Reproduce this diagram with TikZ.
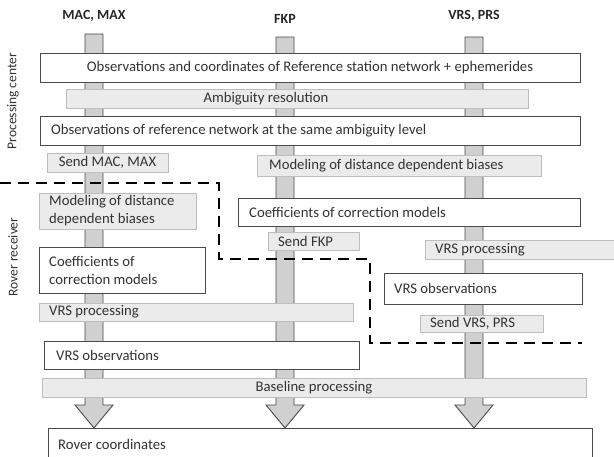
\documentclass[tikz,border=0pt]{standalone}
\usepackage{fontspec}
\setmainfont{Carlito}
\usetikzlibrary{calc}
\definecolor{txt}{HTML}{333333}
\definecolor{bandfill}{HTML}{EBEBEB}
\definecolor{banddraw}{HTML}{BDBDBD}
\definecolor{boxdraw}{HTML}{4A4A4A}
\definecolor{shaftfill}{HTML}{D0D0D0}
\tikzset{
  wbox/.style={draw=boxdraw, fill=white, line width=0.9pt, inner sep=0pt, outer sep=0pt, anchor=north west},
  gband/.style={draw=banddraw, fill=bandfill, line width=0.8pt, inner sep=0pt, outer sep=0pt, anchor=north west},
  lbl/.style={text=txt, font=\fontsize{14.7}{18}\selectfont, inner sep=0pt, anchor=west},
  clbl/.style={text=txt, font=\fontsize{14.7}{18}\selectfont, inner sep=0pt},
  side/.style={text=txt, font=\fontsize{13.5}{16}\selectfont, inner sep=0pt, rotate=90},
  ttl/.style={text=black!85, font=\fontsize{14}{16}\selectfont\bfseries, inner sep=0pt},
  shaft/.style={draw=boxdraw, fill=shaftfill, line width=0.9pt, line join=miter},
  divider/.style={draw=black, line width=2.6pt, dash pattern=on 11pt off 7pt},
}
\begin{document}
\begin{tikzpicture}[x=1pt,y=-1pt]
\useasboundingbox (0,0) rectangle (614,457);
% column titles
\node[ttl] (tmac) at (94,16) {MAC, MAX};
\node[ttl] (tfkp) at (285,19) {FKP};
\node[ttl] (tvrs) at (474,16) {VRS, PRS};
% shafts with arrow heads
\foreach \c/\t in {94/34, 285/37, 474/37}{
  \draw[shaft] (\c-9,\t) -- (\c+9,\t) -- (\c+9,405) -- (\c+19,405) -- (\c,428)
     -- (\c-19,405) -- (\c-9,405) -- cycle;
}
% side labels
\node[side] (pc) at (13,101) {Processing center};
\node[side] (rr) at (13,257) {Rover receiver};
% processing center
\node[wbox, minimum width=540, minimum height=29] (b1) at (40,53) {};
\node[clbl] at (b1.center) {Observations and coordinates of Reference station network + ephemerides};
\node[gband, minimum width=462, minimum height=19] (b2) at (66,89) {};
\node[clbl] at (266,98.5) {Ambiguity resolution};
\node[wbox, minimum width=540, minimum height=29] (b3) at (40,116) {};
\node[lbl] at ($(b3.west)+(11,0)$) {Observations of reference network at the same ambiguity level};
\node[gband, minimum width=121, minimum height=19] (smac) at (47,153) {};
\node[clbl] at (smac.center) {Send MAC, MAX};
\node[gband, minimum width=284, minimum height=21] (mdr) at (257,155) {};
\node[lbl] at ($(mdr.west)+(12,0)$) {Modeling of distance dependent biases};
% rover / mixed
\node[gband, minimum width=157, minimum height=36] (mdl) at (39,193) {};
\node[lbl, align=left] at ($(mdl.west)+(10,0)$) {Modeling of distance\\dependent biases};
\node[wbox, minimum width=342, minimum height=28] (ccr) at (238,198) {};
\node[lbl] at ($(ccr.west)+(11,0)$) {Coefficients of correction models};
\node[gband, minimum width=91, minimum height=18] (sfkp) at (268,232) {};
\node[lbl] at ($(sfkp.west)+(10,0)$) {Send FKP};
\node[gband, minimum width=190, minimum height=19] (vpr) at (425,240) {};
\node[lbl] at ($(vpr.west)+(10,0)$) {VRS processing};
\node[wbox, minimum width=166, minimum height=46] (ccl) at (39,247) {};
\node[lbl, align=left] at ($(ccl.west)+(10,0)$) {Coefficients of\\correction models};
\node[wbox, minimum width=198, minimum height=31] (vor) at (384,273) {};
\node[lbl] at ($(vor.west)+(10,0)$) {VRS observations};
\node[gband, minimum width=314, minimum height=18] (vpl) at (39,303) {};
\node[lbl] at ($(vpl.west)+(10,0)$) {VRS processing};
\node[gband, minimum width=123, minimum height=17] (svrs) at (420,315) {};
\node[lbl] at ($(svrs.west)+(10,0)$) {Send VRS, PRS};
\node[wbox, minimum width=315, minimum height=28] (vol) at (44,341) {};
\node[lbl] at ($(vol.west)+(12,0)$) {VRS observations};
\node[gband, minimum width=544, minimum height=19] (bp) at (42,378) {};
\node[clbl] at (314,388) {Baseline processing};
\node[wbox, minimum width=544, minimum height=40] (rc) at (48,428) {};
\node[lbl] at (58,444) {Rover coordinates};
% divider between processing center and rover receiver
\coordinate (d0) at (0,183);
\coordinate (d1) at (219,183);
\coordinate (d2) at (219,259);
\coordinate (d3) at (370,259);
\coordinate (d4) at (370,343);
\coordinate (d5) at (582,343);
\draw[divider] (d0) -- (d1) -- (d2) -- (d3) -- (d4) -- (d5);
\end{tikzpicture}
\end{document}
